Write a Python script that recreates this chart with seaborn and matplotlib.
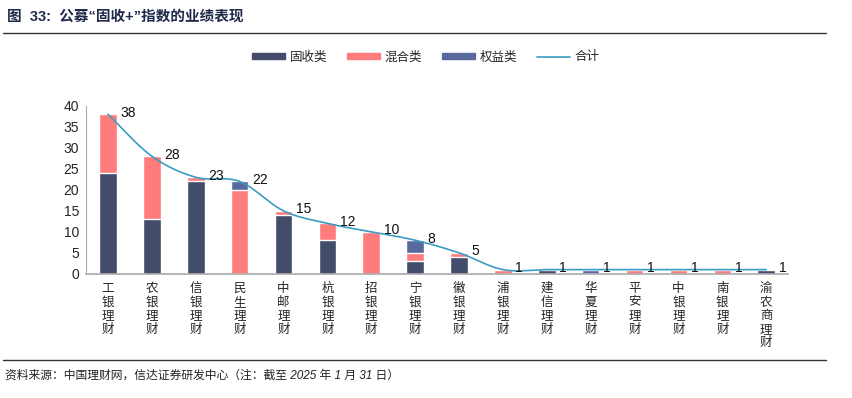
import numpy as np
import pandas as pd
import matplotlib
matplotlib.use("Agg")
import matplotlib.pyplot as plt
import seaborn as sns
from matplotlib.patches import Patch
from matplotlib.lines import Line2D

banks = ["工银理财", "农银理财", "信银理财", "民生理财", "中邮理财", "杭银理财", "招银理财", "宁银理财",
         "徽银理财", "浦银理财", "建信理财", "华夏理财", "平安理财", "中银理财", "南银理财", "渝农商理财"]
fixed_income = [24, 13, 22, 0, 14, 8, 0, 3, 4, 0, 1, 0, 0, 0, 0, 1]
mixed = [14, 15, 1, 20, 1, 4, 10, 2, 1, 1, 0, 0, 1, 1, 1, 0]
equity = [0, 0, 0, 2, 0, 0, 0, 3, 0, 0, 0, 1, 0, 0, 0, 0]

C_FIXED = "#434c6b"
C_MIXED = "#ff7c7c"
C_EQUITY = "#58699e"
C_LINE = "#3a9cc2"


def smooth(xs, ys, n=20):
    # Catmull-Rom style smoothing, similar to Excel's smoothed line
    xs = np.asarray(xs, float)
    ys = np.asarray(ys, float)
    px = np.concatenate([[2 * xs[0] - xs[1]], xs, [2 * xs[-1] - xs[-2]]])
    py = np.concatenate([[2 * ys[0] - ys[1]], ys, [2 * ys[-1] - ys[-2]]])
    out_x, out_y = [], []
    t = np.linspace(0, 1, n, endpoint=False)
    for i in range(1, len(px) - 2):
        for p, o in ((px, out_x), (py, out_y)):
            p0, p1, p2, p3 = p[i - 1], p[i], p[i + 1], p[i + 2]
            o.extend(0.5 * ((2 * p1) + (-p0 + p2) * t + (2 * p0 - 5 * p1 + 4 * p2 - p3) * t ** 2
                            + (-p0 + 3 * p1 - 3 * p2 + p3) * t ** 3))
    out_x.append(xs[-1])
    out_y.append(ys[-1])
    return np.array(out_x), np.array(out_y)


df = pd.DataFrame({"bank": banks, "fixed": fixed_income, "mixed": mixed, "equity": equity})
df["fm"] = df["fixed"] + df["mixed"]
df["total"] = df["fm"] + df["equity"]

sns.set_style("white")
plt.rcParams["font.family"] = ["Liberation Sans", "Noto Sans CJK SC"]
plt.rcParams["axes.unicode_minus"] = False

fig = plt.figure(figsize=(8.52, 3.98), dpi=100)
ax = fig.add_axes([0.101, 0.312, 0.824, 0.422])

# stacked bars drawn as overlapping cumulative heights
sns.barplot(data=df, x="bank", y="total", color=C_EQUITY, width=0.4, saturation=1, ax=ax)
sns.barplot(data=df, x="bank", y="fm", color=C_MIXED, width=0.4, saturation=1, ax=ax)
sns.barplot(data=df, x="bank", y="fixed", color=C_FIXED, width=0.4, saturation=1, ax=ax)

pos = np.arange(len(banks))
sx, sy = smooth(pos, df["total"].values)
ax.plot(sx, sy, color=C_LINE, lw=1.2, zorder=5)

for i, v in enumerate(df["total"]):
    ax.annotate(str(v), (i, v), xytext=(9, 1), textcoords="offset points",
                ha="left", va="center", fontsize=10, color="#111111", zorder=6)

ax.set_xlim(-0.5, len(banks) - 0.5)
ax.set_ylim(0, 40)
ax.set_yticks(range(0, 41, 5))
ax.set_xlabel("")
ax.set_ylabel("")
ax.set_xticks(pos)
ax.set_xticklabels(["\n".join(b) for b in banks], fontsize=9, family=["Noto Sans CJK SC"],
                   linespacing=1.05, va="top")
ax.tick_params(axis="x", length=0, pad=6)
ax.set_xticks(np.arange(-0.5, len(banks), 1), minor=True)
ax.tick_params(axis="x", which="minor", length=4, direction="inout", color="#999999")
ax.tick_params(axis="y", length=3, color="#999999", labelsize=10, pad=2)
for s in ["top", "right"]:
    ax.spines[s].set_visible(False)
ax.spines["left"].set_color("#aaaaaa")
ax.spines["bottom"].set_color("#aaaaaa")
ax.spines["bottom"].set_linewidth(1.2)

handles = [Patch(color=C_FIXED, label="固收类"), Patch(color=C_MIXED, label="混合类"),
           Patch(color=C_EQUITY, label="权益类"), Line2D([], [], color=C_LINE, lw=1.2, label="合计")]
fig.legend(handles=handles, loc="center", bbox_to_anchor=(0.5, 0.857), ncol=4, frameon=False,
           handlelength=2.6, handleheight=0.45, columnspacing=1.6, handletextpad=0.4,
           prop={"family": ["Noto Sans CJK SC"], "size": 9})

fig.text(0.008, 0.958, "图  33:  公募“固收+”指数的业绩表现", fontsize=10.5, fontweight="bold",
         color="#1f2a4a", ha="left", va="center")
fig.add_artist(Line2D([0.003, 0.97], [0.917, 0.917], color="#333333", lw=1))
fig.add_artist(Line2D([0.003, 0.97], [0.095, 0.095], color="#333333", lw=1))
fig.text(0.006, 0.055, "资料来源：中国理财网，信达证券研发中心（注：截至 2025 年 1 月 31 日）", fontsize=8.5,
         style="italic", color="#222222", ha="left", va="center")

fig.savefig("out.png", dpi=100)
